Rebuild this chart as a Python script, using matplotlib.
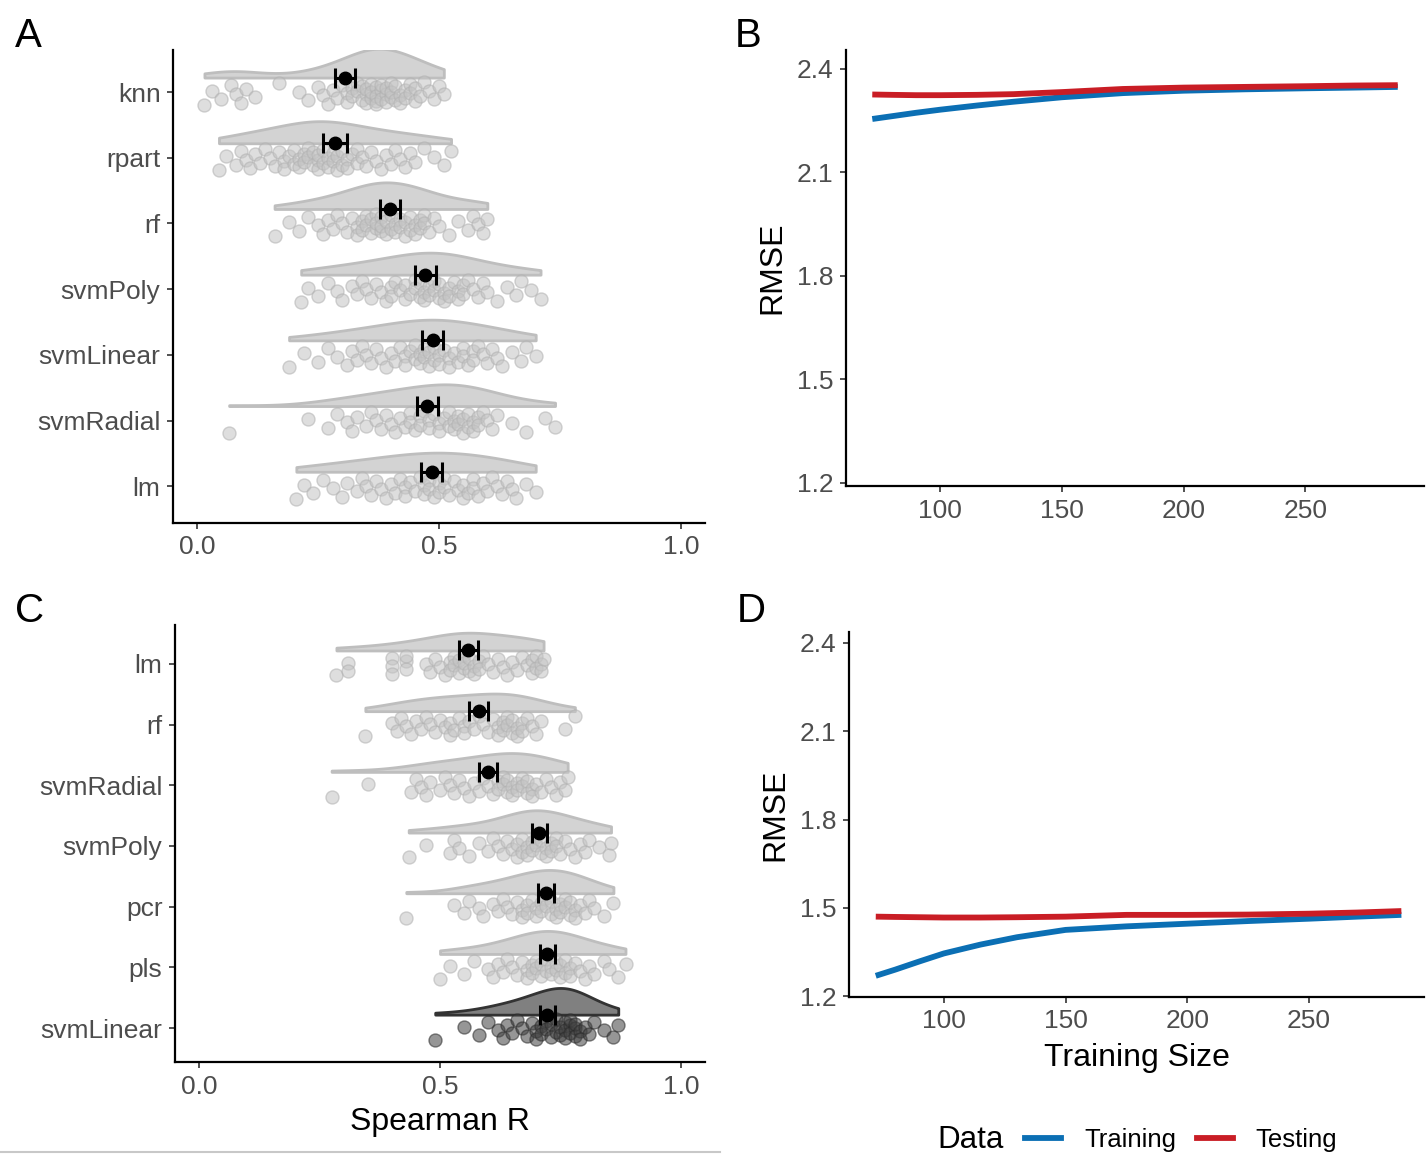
import numpy as np
import matplotlib
matplotlib.use("Agg")
import matplotlib.pyplot as plt
from matplotlib.lines import Line2D

plt.rcParams['font.family'] = ['Liberation Sans', 'DejaVu Sans']

# ---- panel A: Spearman R per model ----
a_names = ["lm", "svmRadial", "svmLinear", "svmPoly", "rf", "rpart", "knn"]  # bottom -> top
a_knn = [0.015, 0.03, 0.05, 0.07, 0.08, 0.09, 0.10, 0.12, 0.17, 0.21, 0.23, 0.25, 0.26, 0.27,
         0.28, 0.29, 0.30, 0.31, 0.31, 0.32, 0.32, 0.33, 0.33, 0.34, 0.34, 0.35, 0.35, 0.35,
         0.36, 0.36, 0.36, 0.37, 0.37, 0.37, 0.37, 0.38, 0.38, 0.38, 0.39, 0.39, 0.39, 0.40,
         0.40, 0.40, 0.41, 0.41, 0.42, 0.42, 0.43, 0.43, 0.44, 0.44, 0.45, 0.45, 0.46, 0.47,
         0.48, 0.49, 0.50, 0.51]
a_rpart = [0.045, 0.06, 0.08, 0.09, 0.10, 0.11, 0.12, 0.13, 0.14, 0.15, 0.16, 0.17, 0.18, 0.18,
           0.19, 0.20, 0.20, 0.21, 0.21, 0.22, 0.22, 0.23, 0.23, 0.24, 0.24, 0.25, 0.25, 0.25,
           0.26, 0.26, 0.27, 0.27, 0.28, 0.28, 0.29, 0.29, 0.30, 0.30, 0.31, 0.31, 0.32, 0.33,
           0.33, 0.34, 0.35, 0.36, 0.37, 0.38, 0.39, 0.40, 0.41, 0.42, 0.43, 0.44, 0.45, 0.47,
           0.49, 0.51, 0.525]
a_rf = [0.16, 0.19, 0.21, 0.23, 0.25, 0.26, 0.27, 0.28, 0.29, 0.30, 0.31, 0.32, 0.33, 0.33,
        0.34, 0.34, 0.35, 0.35, 0.36, 0.36, 0.37, 0.37, 0.37, 0.38, 0.38, 0.38, 0.39, 0.39,
        0.40, 0.40, 0.41, 0.41, 0.42, 0.42, 0.43, 0.43, 0.44, 0.44, 0.45, 0.45, 0.46, 0.46,
        0.47, 0.47, 0.48, 0.49, 0.50, 0.52, 0.54, 0.56, 0.57, 0.58, 0.59, 0.60]
a_svmPoly = [0.215, 0.23, 0.25, 0.27, 0.29, 0.30, 0.32, 0.33, 0.34, 0.35, 0.36, 0.37, 0.38, 0.39,
             0.40, 0.40, 0.41, 0.42, 0.43, 0.43, 0.44, 0.45, 0.45, 0.46, 0.46, 0.47, 0.47, 0.48,
             0.48, 0.49, 0.49, 0.50, 0.50, 0.51, 0.51, 0.52, 0.52, 0.53, 0.54, 0.54, 0.55, 0.55,
             0.56, 0.57, 0.58, 0.59, 0.60, 0.62, 0.64, 0.66, 0.67, 0.69, 0.71]
a_svmLinear = [0.19, 0.22, 0.25, 0.27, 0.29, 0.31, 0.32, 0.33, 0.34, 0.35, 0.36, 0.37, 0.38, 0.39,
               0.40, 0.41, 0.42, 0.43, 0.43, 0.44, 0.45, 0.45, 0.46, 0.46, 0.47, 0.47, 0.48, 0.48,
               0.49, 0.49, 0.50, 0.50, 0.51, 0.52, 0.52, 0.53, 0.54, 0.55, 0.55, 0.56, 0.57, 0.57,
               0.58, 0.59, 0.60, 0.61, 0.62, 0.63, 0.65, 0.67, 0.68, 0.70]
a_svmRadial = [0.066, 0.23, 0.27, 0.29, 0.31, 0.32, 0.33, 0.35, 0.36, 0.37, 0.38, 0.39, 0.40, 0.41,
               0.42, 0.43, 0.44, 0.44, 0.45, 0.46, 0.46, 0.47, 0.48, 0.48, 0.49, 0.50, 0.50, 0.51,
               0.52, 0.52, 0.53, 0.53, 0.54, 0.54, 0.55, 0.55, 0.56, 0.56, 0.57, 0.57, 0.58, 0.58,
               0.59, 0.60, 0.61, 0.62, 0.65, 0.68, 0.72, 0.74]
a_lm = [0.205, 0.22, 0.24, 0.26, 0.28, 0.30, 0.31, 0.33, 0.34, 0.35, 0.36, 0.37, 0.38, 0.39,
        0.40, 0.41, 0.42, 0.43, 0.43, 0.44, 0.45, 0.46, 0.47, 0.47, 0.48, 0.48, 0.49, 0.50,
        0.50, 0.51, 0.51, 0.52, 0.53, 0.54, 0.55, 0.55, 0.56, 0.57, 0.57, 0.58, 0.59, 0.60,
        0.61, 0.62, 0.63, 0.64, 0.65, 0.66, 0.68, 0.70]
a_values = [a_lm, a_svmRadial, a_svmLinear, a_svmPoly, a_rf, a_rpart, a_knn]
a_mean = [0.485, 0.476, 0.487, 0.472, 0.398, 0.285, 0.305]
a_ci = [0.022, 0.022, 0.022, 0.022, 0.021, 0.025, 0.021]

# ---- panel C ----
c_names = ["svmLinear", "pls", "pcr", "svmPoly", "svmRadial", "rf", "lm"]  # bottom -> top
c_lm = [0.285, 0.31, 0.31, 0.40, 0.40, 0.40, 0.43, 0.43, 0.43, 0.47, 0.48, 0.49, 0.50, 0.51,
        0.52, 0.52, 0.53, 0.53, 0.54, 0.54, 0.55, 0.55, 0.55, 0.56, 0.56, 0.57, 0.57, 0.58,
        0.58, 0.59, 0.60, 0.61, 0.62, 0.63, 0.64, 0.65, 0.66, 0.67, 0.68, 0.69, 0.69, 0.70,
        0.70, 0.71, 0.71, 0.715]
c_rf = [0.345, 0.40, 0.41, 0.42, 0.43, 0.44, 0.45, 0.46, 0.47, 0.48, 0.49, 0.50, 0.51, 0.52,
        0.52, 0.53, 0.54, 0.55, 0.55, 0.56, 0.57, 0.58, 0.59, 0.60, 0.61, 0.62, 0.62, 0.63,
        0.63, 0.64, 0.64, 0.65, 0.65, 0.66, 0.66, 0.67, 0.67, 0.68, 0.69, 0.70, 0.71, 0.76, 0.78]
c_svmRadial = [0.275, 0.35, 0.44, 0.45, 0.46, 0.47, 0.48, 0.50, 0.51, 0.52, 0.53, 0.54, 0.55,
               0.56, 0.57, 0.58, 0.59, 0.60, 0.61, 0.62, 0.62, 0.63, 0.63, 0.64, 0.64, 0.65,
               0.65, 0.66, 0.66, 0.67, 0.67, 0.68, 0.68, 0.69, 0.69, 0.70, 0.71, 0.72, 0.73,
               0.74, 0.75, 0.76, 0.765]
c_svmPoly = [0.435, 0.47, 0.52, 0.53, 0.54, 0.56, 0.58, 0.60, 0.61, 0.62, 0.63, 0.64, 0.65, 0.66,
             0.66, 0.67, 0.67, 0.68, 0.68, 0.69, 0.69, 0.70, 0.70, 0.71, 0.71, 0.72, 0.72, 0.73,
             0.73, 0.74, 0.74, 0.75, 0.76, 0.77, 0.78, 0.79, 0.80, 0.81, 0.83, 0.85, 0.855]
c_pcr = [0.43, 0.53, 0.55, 0.56, 0.58, 0.59, 0.61, 0.62, 0.63, 0.64, 0.65, 0.66, 0.67, 0.67,
         0.68, 0.68, 0.69, 0.70, 0.70, 0.71, 0.71, 0.72, 0.72, 0.73, 0.73, 0.74, 0.74, 0.75,
         0.75, 0.76, 0.76, 0.77, 0.77, 0.78, 0.78, 0.79, 0.80, 0.81, 0.82, 0.84, 0.86]
c_pls = [0.50, 0.52, 0.55, 0.57, 0.60, 0.61, 0.62, 0.63, 0.64, 0.65, 0.66, 0.67, 0.68, 0.68,
         0.69, 0.69, 0.70, 0.70, 0.71, 0.71, 0.72, 0.72, 0.73, 0.73, 0.74, 0.74, 0.75, 0.75,
         0.76, 0.76, 0.77, 0.77, 0.78, 0.79, 0.80, 0.81, 0.82, 0.84, 0.85, 0.87, 0.885]
c_svmLinear = [0.49, 0.55, 0.58, 0.60, 0.62, 0.63, 0.64, 0.65, 0.66, 0.67, 0.68, 0.69, 0.70,
               0.70, 0.71, 0.71, 0.72, 0.72, 0.73, 0.73, 0.74, 0.74, 0.75, 0.75, 0.76, 0.76,
               0.76, 0.77, 0.77, 0.77, 0.78, 0.78, 0.78, 0.79, 0.79, 0.80, 0.81, 0.82, 0.84,
               0.86, 0.87]
c_values = [c_svmLinear, c_pls, c_pcr, c_svmPoly, c_svmRadial, c_rf, c_lm]
c_mean = [0.723, 0.723, 0.720, 0.706, 0.600, 0.580, 0.559]
c_ci = [0.016, 0.016, 0.016, 0.016, 0.019, 0.019, 0.020]

# ---- panels B / D: learning curves ----
train_size = [72, 80, 90, 100, 115, 130, 150, 175, 200, 225, 250, 270, 288]
b_training = [2.255, 2.263, 2.273, 2.282, 2.294, 2.305, 2.318, 2.330, 2.337, 2.341, 2.344, 2.346, 2.348]
b_testing = [2.326, 2.325, 2.324, 2.324, 2.325, 2.327, 2.333, 2.342, 2.346, 2.348, 2.350, 2.352, 2.353]
d_training = [1.269, 1.290, 1.318, 1.345, 1.375, 1.400, 1.425, 1.437, 1.446, 1.455, 1.463, 1.470, 1.476]
d_testing = [1.470, 1.469, 1.468, 1.467, 1.467, 1.468, 1.470, 1.476, 1.476, 1.477, 1.480, 1.484, 1.489]

blue = "#0b6fb4"
red = "#c91d25"
tick_col = "#4D4D4D"

W, H = 1428, 1156
fig = plt.figure(figsize=(W / 100, H / 100), dpi=100)


def box(l, t, r, b):
    return [l / W, 1 - b / H, (r - l) / W, (b - t) / H]


def style(ax):
    for s in ["top", "right"]:
        ax.spines[s].set_visible(False)
    for s in ["left", "bottom"]:
        ax.spines[s].set_linewidth(1.6)
    ax.tick_params(length=4, width=1.2, color="#333333", labelcolor=tick_col,
                   labelsize=19, pad=5)


def kde(vals, grid, adjust=1.4):
    v = np.asarray(vals)
    n = len(v)
    sd = v.std(ddof=1)
    iqr = np.percentile(v, 75) - np.percentile(v, 25)
    bw = 0.9 * min(sd, iqr / 1.34) * n ** -0.2 * adjust
    z = (grid[:, None] - v[None, :]) / bw
    return np.exp(-0.5 * z ** 2).sum(1) / (n * bw * np.sqrt(2 * np.pi))


def raincloud(ax, names, values, means, ci, dark=None):
    curves = []
    for v in values:
        g = np.linspace(min(v), max(v), 300)
        curves.append((g, kde(v, g)))
    top = max(d.max() for _, d in curves)
    for i, (v, (g, d)) in enumerate(zip(values, curves)):
        pos = i + 1
        base = pos + 0.22
        if i == dark:
            fc, ec, pc, pe = "#808080", "#333333", "#404040", "#2a2a2a"
        else:
            fc, ec, pc, pe = "#D3D3D3", "#BEBEBE", "#C4C4C4", "#B0B0B0"
        ax.fill_between(g, base, base + d / top * 0.44, facecolor=fc, edgecolor=ec,
                        linewidth=2, zorder=1)
        k = np.arange(len(v))
        jit = ((k * 0.618034) % 1 - 0.5) * 0.34
        ax.scatter(v, pos - 0.02 + jit, s=88, facecolor=pc, edgecolor=pe,
                   linewidth=1, alpha=0.55, zorder=2)
        ax.errorbar(means[i], base, xerr=ci[i], fmt="o", color="black", ms=9,
                    capsize=7, elinewidth=2.2, capthick=2.2, zorder=3)
    ax.set_yticks(range(1, len(names) + 1))
    ax.set_yticklabels(names)
    ax.set_xlim(-0.05, 1.05)
    ax.set_xticks([0.0, 0.5, 1.0])
    ax.set_xticklabels(["0.0", "0.5", "1.0"])
    ax.set_ylim(0.44, 7.64)
    style(ax)


axA = fig.add_axes(box(173, 50, 705, 523))
raincloud(axA, a_names, a_values, a_mean, a_ci)

axC = fig.add_axes(box(175, 625, 705, 1062))
raincloud(axC, c_names, c_values, c_mean, c_ci, dark=0)
axC.set_xlabel("Spearman R", fontsize=23)
axC.xaxis.set_label_coords(0.5, -0.103)

axB = fig.add_axes(box(846, 50, 1424, 486))
axB.plot(train_size, b_training, color=blue, lw=4.2, solid_capstyle="butt")
axB.plot(train_size, b_testing, color=red, lw=4.2, solid_capstyle="butt")
axB.set_ylim(1.191, 2.455)
axB.set_xlim(61.2, 298.8)

axD = fig.add_axes(box(849, 632, 1424, 997))
axD.plot(train_size, d_training, color=blue, lw=4.2, solid_capstyle="butt")
axD.plot(train_size, d_testing, color=red, lw=4.2, solid_capstyle="butt")
axD.set_ylim(1.197, 2.437)
axD.set_xlim(61.0, 297.3)
axD.set_xlabel("Training Size", fontsize=23)
axD.xaxis.set_label_coords(0.5, -0.125)

for ax in (axB, axD):
    ax.set_yticks([1.2, 1.5, 1.8, 2.1, 2.4])
    ax.set_xticks([100, 150, 200, 250])
    ax.set_ylabel("RMSE", fontsize=23)
    ax.yaxis.set_label_coords(-0.102, 0.5)
    style(ax)

for lbl, x, y in [("A", 15, 47), ("B", 735, 47), ("C", 15, 622), ("D", 737, 622)]:
    fig.text(x / W, 1 - y / H, lbl, fontsize=29, va="baseline", ha="left")

handles = [Line2D([], [], color=blue, lw=4.2), Line2D([], [], color=red, lw=4.2)]
fig.legend(handles, ["Training", "Testing"], loc="center left",
           bbox_to_anchor=(1025 / W, 1 - 1140 / H), ncol=2, frameon=False,
           fontsize=18.5, handlelength=1.4, handletextpad=0.9, columnspacing=0.8,
           borderpad=0, borderaxespad=0)
fig.text(937 / W, 1 - 1140 / H, "Data", fontsize=22.5, va="center", ha="left")

fig.add_artist(Line2D([0, 720 / W], [1 - 1152 / H, 1 - 1152 / H], color="#C8C8C8",
                      lw=1.5, transform=fig.transFigure))

fig.savefig("out.png", dpi=100)
